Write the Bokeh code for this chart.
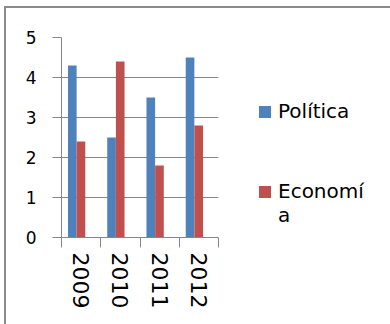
from bokeh.plotting import figure
from bokeh.models import FixedTicker, Range1d, Legend, LegendItem
from bokeh.embed import file_html
from bokeh.resources import INLINE
import numpy as np

years = ["2009", "2010", "2011", "2012"]
politica = [4.3, 2.5, 3.5, 4.5]
economia = [2.4, 4.4, 1.8, 2.8]
y_ticks = [0, 1, 2, 3, 4, 5]
series_labels = ["Política", "\nEconomí\na"]

BLUE = "#4F81BD"
RED = "#C0504D"
GRAY = "#868686"
FONT = "DejaVu Sans"

idx = np.arange(len(years))

p = figure(width=384, height=316, output_backend="svg", toolbar_location=None,
           x_range=Range1d(0, len(years)), y_range=Range1d(0, 5),
           min_border_left=55, min_border_top=29, min_border_right=0, min_border_bottom=87,
           frame_width=157, frame_height=200)
p.styles = {"margin-left": "4px", "margin-top": "6px",
            "border-top": "2px solid #8a8a8a", "border-left": "2px solid #8a8a8a"}
p.outline_line_color = None
p.background_fill_color = "white"

r1 = p.vbar(x=idx + 0.275, top=politica, width=0.22, color=BLUE, line_color=None)
r2 = p.vbar(x=idx + 0.496, top=economia, width=0.22, color=RED, line_color=None)

# x axis
xa = p.xaxis[0]
xa.ticker = FixedTicker(ticks=list(idx + 0.5), minor_ticks=list(range(len(years) + 1)))
xa.major_label_overrides = {float(i + 0.5): y for i, y in enumerate(years)}
xa.major_label_orientation = "vertical"
xa.major_tick_line_color = None
xa.major_tick_out = 10
xa.major_tick_in = 0
xa.minor_tick_line_color = GRAY
xa.minor_tick_out = 10
xa.minor_tick_in = 0
xa.major_label_standoff = 5
xa.major_label_text_font = FONT
xa.major_label_text_font_size = "22px"
xa.major_label_text_color = "black"
xa.axis_line_color = GRAY

# y axis
ya = p.yaxis[0]
ya.ticker = FixedTicker(ticks=y_ticks)
ya.major_tick_out = 9
ya.major_tick_in = 0
ya.major_tick_line_color = GRAY
ya.minor_tick_line_color = None
ya.major_label_standoff = 16
ya.major_label_text_font = FONT
ya.major_label_text_font_size = "17px"
ya.major_label_text_color = "black"
ya.axis_line_color = GRAY

p.xgrid.grid_line_color = None
p.ygrid.grid_line_color = GRAY
p.ygrid.ticker = FixedTicker(ticks=y_ticks)

lg = Legend(items=[LegendItem(label=series_labels[0], renderers=[r1]),
                   LegendItem(label=series_labels[1], renderers=[r2])],
            location=(39, 10))
lg.border_line_color = None
lg.background_fill_alpha = 0
lg.padding = 0
lg.margin = 0
lg.spacing = 32
lg.glyph_width = 15
lg.glyph_height = 15
lg.label_height = 15
lg.label_standoff = 6
lg.label_text_font = FONT
lg.label_text_font_size = "20px"
lg.label_text_line_height = 1.85
lg.label_text_color = "black"
p.add_layout(lg, "right")

open("out.html", "w").write(file_html(p, INLINE))
